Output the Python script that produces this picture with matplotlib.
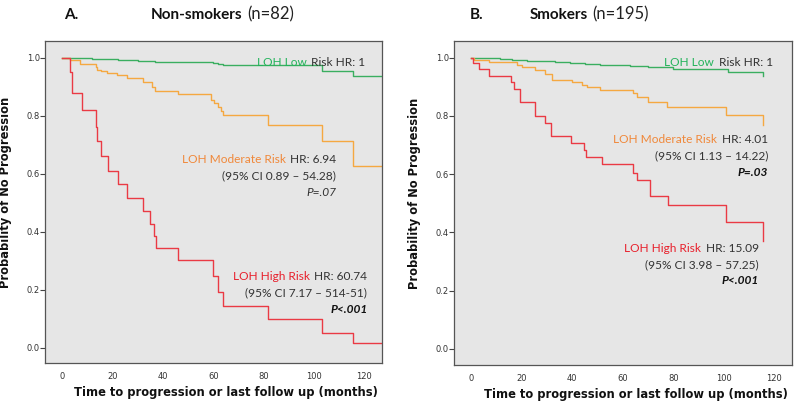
import matplotlib
matplotlib.use('Agg')
import matplotlib.pyplot as plt

# panel A: non-smokers, (time in months, survival after step)
a_low_t = [0, 4, 12, 22, 30, 37, 60, 62, 64, 103.1, 115.6, 127]
a_low_s = [1.0, 0.997, 0.994, 0.991, 0.988, 0.985, 0.982, 0.978, 0.975, 0.955, 0.936, 0.936]
a_mod_t = [0, 3.3, 7.0, 13.3, 14.0, 15.6, 18.0, 21.6, 25.6, 32.2, 35.5, 36.8, 46.1, 59.3,
           60.4, 61.7, 63.0, 64.0, 81.8, 103.1, 115.6, 127]
a_mod_s = [1.0, 0.99, 0.978, 0.967, 0.958, 0.952, 0.946, 0.939, 0.929, 0.917, 0.900, 0.886,
           0.875, 0.854, 0.842, 0.829, 0.815, 0.802, 0.768, 0.712, 0.627, 0.627]
a_high_t = [0, 3.3, 4.0, 7.7, 13.3, 13.9, 15.3, 18.3, 22.3, 25.8, 32.3, 34.8, 36.4, 37.1,
            46.2, 60.0, 61.7, 63.8, 81.9, 103.1, 115.6, 127]
a_high_s = [1.0, 0.95, 0.877, 0.820, 0.762, 0.713, 0.659, 0.610, 0.563, 0.517, 0.472, 0.427,
            0.385, 0.343, 0.302, 0.247, 0.191, 0.143, 0.098, 0.050, 0.017, 0.017]

# panel B: smokers
b_low_t = [0, 5, 11.5, 16, 22, 27, 33, 39, 45, 51, 59, 63, 70, 80, 101.5, 115.6]
b_low_s = [1.0, 0.998, 0.995, 0.993, 0.990, 0.987, 0.984, 0.981, 0.978, 0.976, 0.975,
           0.972, 0.966, 0.962, 0.952, 0.937]
b_mod_t = [0, 1.0, 7.2, 18, 20, 25.3, 29.3, 31.9, 40, 43.8, 46, 51, 64.2, 65.5, 70.1,
           77.4, 100.9, 115.4]
b_mod_s = [1.0, 0.992, 0.984, 0.975, 0.968, 0.958, 0.944, 0.923, 0.915, 0.906, 0.898,
           0.889, 0.878, 0.866, 0.846, 0.830, 0.803, 0.768]
b_high_t = [0, 0.7, 2.9, 7.2, 15.8, 17.1, 19.4, 25.3, 29.3, 31.5, 39.6, 44.7, 45.5, 51.7,
            63.9, 65.8, 70.8, 78.0, 100.9, 115.4]
b_high_s = [1.0, 0.981, 0.960, 0.938, 0.915, 0.891, 0.846, 0.800, 0.777, 0.731, 0.706,
            0.683, 0.658, 0.634, 0.605, 0.580, 0.525, 0.494, 0.437, 0.372]

titles = [('A.', 'Non-smokers', '(n=82)'), ('B.', 'Smokers', '(n=195)')]
notes_a = [('6.94', '(95% CI 0.89 \u2013 54.28)', 'P=.07', False),
           ('60.74', '(95% CI 7.17 \u2013 514-51)', 'P<.001', True)]
notes_b = [('4.01', '(95% CI 1.13 \u2013 14.22)', 'P=.03', True),
           ('15.09', '(95% CI 3.98 \u2013 57.25)', 'P<.001', True)]

GREEN = '#3aae60'
ORANGE = '#f5a841'
RED = '#ea3a44'
TGREEN = '#22b35a'
TORANGE = '#f0883a'
TRED = '#e8202c'
GREY = '#333333'
TXT = 'Lato'
FS = 8.6

fig = plt.figure(figsize=(8, 4.09), dpi=100)
axA = fig.add_axes([0.0566, 0.1125, 0.4205, 0.7873])
axB = fig.add_axes([0.5679, 0.1076, 0.4217, 0.7922])


def panel(ax, curves, ylo):
    ax.set_facecolor('#e6e6e6')
    for t, s, c in curves:
        ax.step(t, s, where='post', color=c, lw=1.0)
    ax.set_xlim(-6.7, 126.9)
    ax.set_ylim(ylo, 1.057)
    ax.set_xticks(range(0, 121, 20))
    ax.set_yticks([0, 0.2, 0.4, 0.6, 0.8, 1.0])
    ax.set_yticklabels(['0.0', '0.2', '0.4', '0.6', '0.8', '1.0'])
    ax.tick_params(axis='x', length=0, pad=6.5, labelsize=6, labelcolor=GREY)
    ax.tick_params(axis='y', length=3.5, width=0.8, pad=0.5, labelsize=6,
                   labelcolor=GREY, color='#444444')
    for sp in ax.spines.values():
        sp.set_color('#555555')
        sp.set_linewidth(0.9)
    ax.set_ylabel('Probability of No Progression', fontsize=8.3, fontweight='bold',
                  color='#111111')
    ax.yaxis.set_label_coords(-0.1, 0.53)
    ax.set_xlabel('Time to progression or last follow up (months)', fontsize=8.3,
                  fontweight='bold', color='#111111')
    ax.xaxis.set_label_coords(0.537, -0.072)


def coloured_line(ax, x, y, label, col, rest):
    t = ax.text(x, y, rest, color=GREY, ha='right', va='bottom', fontsize=FS, family=TXT)
    ax.annotate(label, xy=(0, 0), xycoords=t, xytext=(-3.2, 0), textcoords='offset points',
                ha='right', va='bottom', color=col, fontsize=FS, family=TXT)


def block(ax, x, y0, dy, label, col, note):
    hr, ci, p, bold = note
    coloured_line(ax, x, y0, label, col, 'HR: ' + hr)
    ax.text(x, y0 - dy, ci, color=GREY, ha='right', va='bottom', fontsize=FS, family=TXT)
    ax.text(x, y0 - 2 * dy, p, color='#111111' if bold else GREY, ha='right', va='bottom',
            fontsize=FS, family=TXT, fontstyle='italic',
            fontweight='bold' if bold else 'normal')


panel(axA, [(a_low_t, a_low_s, GREEN), (a_mod_t, a_mod_s, ORANGE),
            (a_high_t, a_high_s, RED)], -0.053)
panel(axB, [(b_low_t, b_low_s, GREEN), (b_mod_t, b_mod_s, ORANGE),
            (b_high_t, b_high_s, RED)], -0.055)

coloured_line(axA, 120.5, 0.963, 'LOH Low', TGREEN, 'Risk HR: 1')
block(axA, 108.8, 0.628, 0.056, 'LOH Moderate Risk', TORANGE, notes_a[0])
block(axA, 121.2, 0.225, 0.056, 'LOH High Risk', TRED, notes_a[1])

coloured_line(axB, 119.4, 0.963, 'LOH Low', TGREEN, 'Risk HR: 1')
block(axB, 117.5, 0.700, 0.056, 'LOH Moderate Risk', TORANGE, notes_b[0])
block(axB, 113.9, 0.327, 0.056, 'LOH High Risk', TRED, notes_b[1])

# titles
for (letter, bold, rest), xl, xb in zip(titles, [0.089, 0.596], [0.3035, 0.735]):
    fig.text(xl, 0.963, letter, fontsize=11, fontweight='bold', family=TXT, ha='center',
             va='center', color='#111111')
    tt = fig.text(xb, 0.963, bold, fontsize=11, fontweight='bold', family=TXT, ha='right',
                  va='center', color='#111111')
    fig.add_artist(plt.Annotation(rest, xy=(1, 0), xycoords=tt, xytext=(3, -0.5),
                                  textcoords='offset points', ha='left', va='bottom',
                                  fontsize=12, family=TXT, color='#222222',
                                  annotation_clip=False))

fig.savefig('out.png', dpi=100)
